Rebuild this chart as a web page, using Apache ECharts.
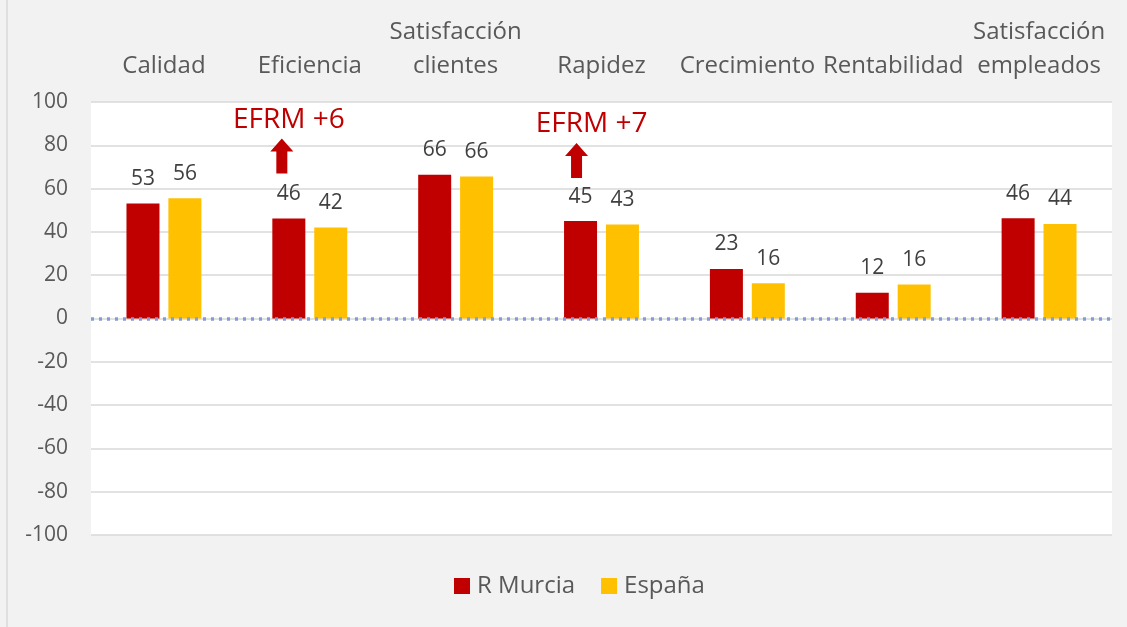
<!DOCTYPE html>
<html>
<head>
<meta charset="utf-8">
<script src="https://cdn.jsdelivr.net/npm/echarts@6/dist/echarts.min.js"></script>
<style>
  html, body { margin: 0; padding: 0; background: #f2f2f2; }
  #main { width: 1127px; height: 627px; }
</style>
</head>
<body>
<div id="main"></div>
<script>
  // categorias (eje superior)
  var categorias = ['Calidad', 'Eficiencia', 'Satisfacción\nclientes', 'Rapidez', 'Crecimiento', 'Rentabilidad', 'Satisfacción\nempleados'];
  var murcia = [53.1, 46.2, 66.4, 45.0, 22.9, 11.9, 46.3];
  var espana = [55.6, 42.0, 65.6, 43.4, 16.3, 15.7, 43.7];
  var ticksY = { min: -100, max: 100, interval: 20 };
  // anotaciones EFRM
  var notas = [
    { cat: 'Eficiencia', texto: 'EFRM +6', yTexto: 91.5, yFlecha: 75.1, dxTexto: 0, dxFlecha: -7 },
    { cat: 'Rapidez', texto: 'EFRM +7', yTexto: 89.6, yFlecha: 73, dxTexto: 11, dxFlecha: -4 }
  ];

  var rojo = '#c00000', amarillo = '#ffc000', gris = '#595959';
  var fuente = 'Open Sans';
  var flecha = 'path://M0,13 L11.5,0 L23,13 L17,13 L17,35 L6,35 L6,13 Z';

  var puntos = [];
  notas.forEach(function (n) {
    puntos.push({
      coord: [n.cat, n.yTexto], symbol: 'rect', symbolSize: 1,
      itemStyle: { color: 'rgba(0,0,0,0)' },
      label: { show: true, position: 'inside', offset: [n.dxTexto, 0], formatter: n.texto,
        color: rojo, fontSize: 28, fontFamily: fuente }
    });
    puntos.push({
      coord: [n.cat, n.yFlecha], symbol: flecha, symbolSize: [23, 35], symbolOffset: [n.dxFlecha, 0],
      itemStyle: { color: rojo }, label: { show: false }
    });
  });

  var myChart = echarts.init(document.getElementById('main'));
  myChart.setOption({
    backgroundColor: '#f2f2f2',
    animation: false,
    textStyle: { fontFamily: fuente },
    grid: { left: 91, right: 15, top: 102, bottom: 92, show: true, backgroundColor: '#fff', borderWidth: 0 },
    graphic: [{ type: 'line', shape: { x1: 7, y1: 0, x2: 7, y2: 627 }, style: { stroke: '#d9d9d9', lineWidth: 1.5 } }],
    legend: {
      data: ['R Murcia', 'España'],
      top: 574, left: 454,
      padding: 0,
      icon: 'rect', itemWidth: 16, itemHeight: 16, itemGap: 26,
      textStyle: { color: gris, fontSize: 24, fontFamily: fuente, padding: [0, 0, 0, 2] }
    },
    xAxis: {
      type: 'category',
      position: 'top',
      data: categorias,
      axisLine: { show: false },
      axisTick: { show: false },
      axisLabel: { interval: 0, margin: 19, color: gris, fontSize: 24, lineHeight: 34, fontFamily: fuente }
    },
    yAxis: {
      type: 'value',
      min: ticksY.min, max: ticksY.max, interval: ticksY.interval,
      axisLine: { show: false },
      axisTick: { show: false },
      axisLabel: { margin: 23, color: gris, fontSize: 21, fontFamily: fuente },
      splitLine: { lineStyle: { color: '#d9d9d9', width: 1.5 } }
    },
    series: [
      {
        name: 'R Murcia', type: 'bar', data: murcia, barWidth: 33, barGap: '27%',
        itemStyle: { color: rojo },
        label: { show: true, position: 'top', distance: 14, color: '#404040', fontSize: 21, fontFamily: fuente,
          formatter: function (p) { return Math.round(p.value); } },
        markLine: {
          silent: true, symbol: 'none', label: { show: false },
          lineStyle: { color: '#7f9fdb', type: [3, 5], width: 3.5, cap: 'butt', opacity: 1 },
          data: [{ yAxis: 0 }]
        },
        markPoint: { silent: true, data: puntos }
      },
      {
        name: 'España', type: 'bar', data: espana, barWidth: 33,
        itemStyle: { color: amarillo },
        label: { show: true, position: 'top', distance: 14, color: '#404040', fontSize: 21, fontFamily: fuente,
          formatter: function (p) { return Math.round(p.value); } }
      }
    ]
  });
</script>
</body>
</html>
